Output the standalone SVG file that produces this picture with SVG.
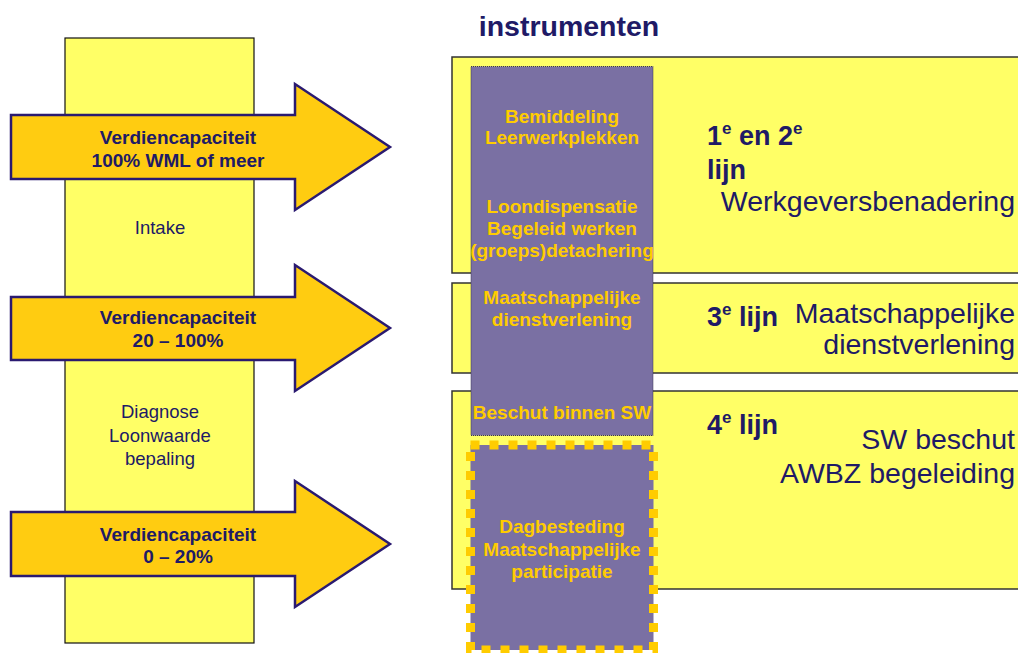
<svg xmlns="http://www.w3.org/2000/svg" width="1018" height="653" viewBox="0 0 1018 653">
<style>
.yel{fill:#ffff66;stroke:#333333;stroke-width:1.5}
.col{fill:#ffff66;stroke:#111111;stroke-width:1.2}
.arrow{fill:#ffcc11;stroke:#2a1a70;stroke-width:2.5;stroke-linejoin:miter}
.purple{fill:#7a70a3}
.dk{font-family:"Liberation Sans",Arial,sans-serif;fill:#201a66}
.b{font-weight:bold}
.ins{font-family:"Liberation Sans",Arial,sans-serif;font-weight:bold;font-size:19px;fill:#ffcc00;text-anchor:middle}
.arr{font-size:19px;font-weight:bold;text-anchor:middle}
.lc{font-size:18.5px;text-anchor:middle}
.big{font-size:28.5px}
.lijn{font-size:27px;font-weight:bold}
.end{text-anchor:end}
</style>
<rect width="1018" height="653" fill="#ffffff"/>

<g id="title"><text class="dk b" x="569" y="36" font-size="28.5" text-anchor="middle">instrumenten</text></g>

<g id="left-column">
<rect class="col" x="65" y="38" width="189" height="605"/>
<text class="dk lc" x="160" y="234">Intake</text>
<text class="dk lc" x="160" y="418">Diagnose</text>
<text class="dk lc" x="160" y="442">Loonwaarde</text>
<text class="dk lc" x="160" y="465">bepaling</text>
</g>

<g id="arrow-1">
<polygon class="arrow" points="11,115 295,115 295,84 390,147 295,210 295,179 11,179"/>
<text class="dk arr" x="178" y="144">Verdiencapaciteit</text>
<text class="dk arr" x="178" y="167">100% WML of meer</text>
</g>
<g id="arrow-2">
<polygon class="arrow" points="11,297 295,297 295,265 390,328 295,391 295,360 11,360"/>
<text class="dk arr" x="178" y="324">Verdiencapaciteit</text>
<text class="dk arr" x="178" y="347">20 – 100%</text>
</g>
<g id="arrow-3">
<polygon class="arrow" points="11,512 295,512 295,481 390,544 295,607 295,576 11,576"/>
<text class="dk arr" x="178" y="541">Verdiencapaciteit</text>
<text class="dk arr" x="178" y="563">0 – 20%</text>
</g>

<g id="box-lijn-1-2">
<rect class="yel" x="452" y="57" width="580" height="216"/>
<text class="dk lijn" x="707" y="145">1<tspan font-size="17" dy="-11">e</tspan><tspan dy="11"> en 2</tspan><tspan font-size="17" dy="-11">e</tspan></text>
<text class="dk lijn" x="707" y="179">lijn</text>
<text class="dk big end" x="1015" y="211">Werkgeversbenadering</text>
</g>
<g id="box-lijn-3">
<rect class="yel" x="452" y="283" width="580" height="90"/>
<text class="dk lijn" x="707" y="326">3<tspan font-size="17" dy="-11">e</tspan><tspan dy="11"> lijn</tspan></text>
<text class="dk big end" x="1015" y="323">Maatschappelijke</text>
<text class="dk big end" x="1015" y="354">dienstverlening</text>
</g>
<g id="box-lijn-4">
<rect class="yel" x="452" y="391" width="580" height="198"/>
<text class="dk lijn" x="707" y="434">4<tspan font-size="17" dy="-11">e</tspan><tspan dy="11"> lijn</tspan></text>
<text class="dk big end" x="1015" y="449">SW beschut</text>
<text class="dk big end" x="1015" y="483">AWBZ begeleiding</text>
</g>

<g id="instrumenten-column">
<rect class="purple" x="471" y="66.5" width="182" height="369" stroke="#3a3550" stroke-width="1" stroke-dasharray="1 1"/>
<text class="ins" x="562" y="123">Bemiddeling</text>
<text class="ins" x="562" y="144">Leerwerkplekken</text>
<text class="ins" x="562" y="213">Loondispensatie</text>
<text class="ins" x="562" y="235">Begeleid werken</text>
<text class="ins" x="562" y="257">(groeps)detachering</text>
<text class="ins" x="562" y="304">Maatschappelijke</text>
<text class="ins" x="562" y="326">dienstverlening</text>
<text class="ins" x="562" y="419">Beschut binnen SW</text>
</g>

<g id="dagbesteding">
<rect class="purple" x="470.5" y="445" width="183" height="205" stroke="#ffcc00" stroke-width="9" stroke-dasharray="9 10"/>
<text class="ins" x="562" y="533">Dagbesteding</text>
<text class="ins" x="562" y="556">Maatschappelijke</text>
<text class="ins" x="562" y="578">participatie</text>
</g>

<g id="connectors"/>
</svg>
